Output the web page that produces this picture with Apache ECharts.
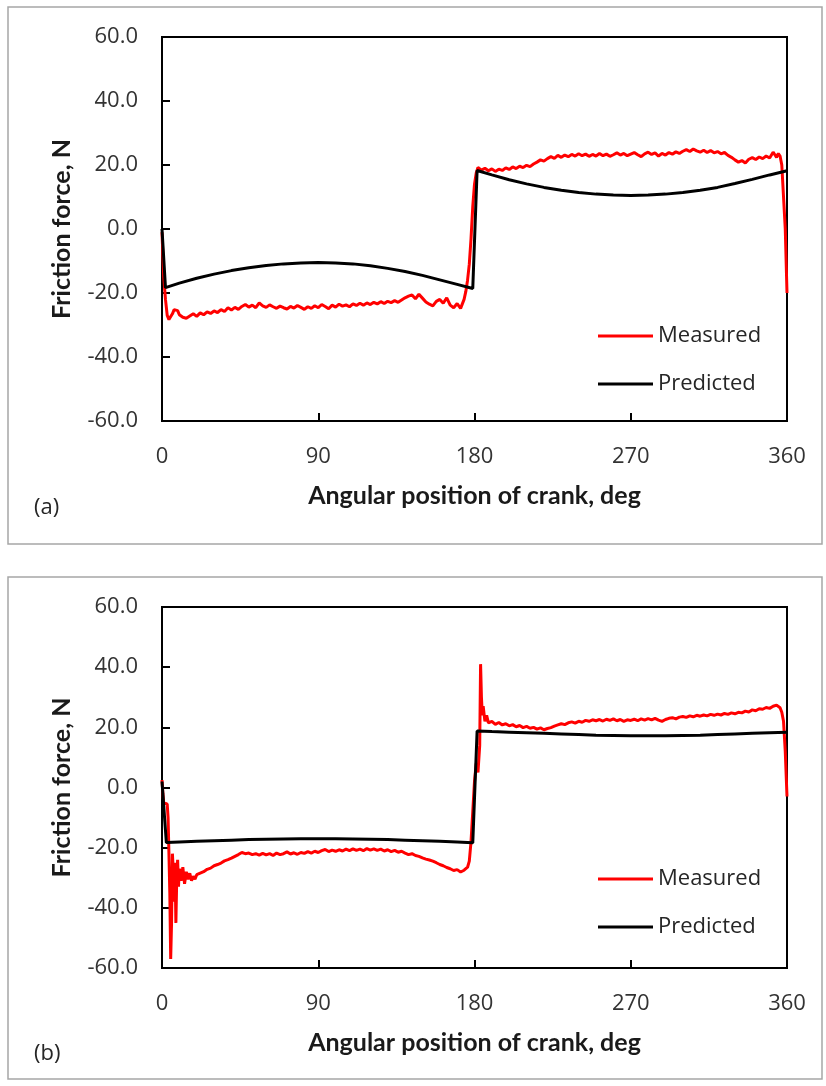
<!DOCTYPE html>
<html>
<head>
<meta charset="utf-8">
<script src="https://cdn.jsdelivr.net/npm/echarts@6/dist/echarts.min.js"></script>
<style>
  html, body { margin: 0; padding: 0; background: #fff; }
  #chart { width: 826px; height: 1086px; }
</style>
</head>
<body>
<div id="chart"></div>
<script>
// panel (a) measured
const measAngleA = [0,0.5,1,2,3,4,5,6,7,8,9,10,12,14,16,18,20,22,24,26,28,30,32,34,36,38,40,42,44,46,48,50,52,54,56,58,60,62,64,66,68,70,72,74,76,78,80,82,84,86,88,90,92,94,96,98,100,102,104,106,108,110,112,114,116,118,120,122,124,126,128,130,132,134,136,138,140,142,144,146,148,150,152,154,156,158,160,162,164,166,168,170,172,174,175,176,177,178,179,180,181,182,184,186,188,190,192,194,196,198,200,202,204,206,208,210,212,214,216,218,220,222,224,226,228,230,232,234,236,238,240,242,244,246,248,250,252,254,256,258,260,262,264,266,268,270,272,274,276,278,280,282,284,286,288,290,292,294,296,298,300,302,304,306,308,310,312,314,316,318,320,322,324,326,328,330,332,334,336,338,340,342,344,346,348,350,352,353,354,355,356,357,358,359,360];
const measForceA = [-1,-8,-15,-22,-27,-28.3,-28,-26.5,-25.2,-24.8,-25.5,-26.8,-27.6,-27.9,-27.2,-26.5,-27.3,-26.2,-26.8,-25.9,-26.4,-25.6,-26.1,-25.2,-25.8,-24.6,-25.3,-24.5,-25.1,-24.2,-23.6,-24.4,-23.8,-24.6,-23.1,-24.0,-24.5,-23.7,-24.3,-24.8,-24.1,-24.6,-25.0,-24.2,-24.7,-23.9,-24.5,-25.1,-24.3,-24.8,-24.0,-24.6,-23.6,-24.2,-24.9,-23.8,-24.4,-23.5,-24.1,-23.7,-24.3,-23.4,-23.9,-23.2,-23.8,-23.1,-23.6,-22.9,-23.4,-22.7,-23.3,-22.6,-23.0,-22.4,-22.9,-22.2,-21.5,-21.0,-20.6,-21.8,-20.4,-21.6,-22.8,-23.5,-24.0,-22.6,-22.0,-23.2,-21.5,-23.8,-24.6,-23.3,-24.8,-22.0,-19.5,-16,-11,-3,7,14,17.5,19.2,18.4,19.0,18.2,18.8,18.0,18.7,18.3,19.1,18.6,19.4,18.9,19.6,19.2,19.9,19.5,20.3,20.9,21.6,21.2,22.0,22.6,22.1,23.0,22.4,23.1,22.6,23.3,22.8,23.5,22.9,23.4,22.7,23.3,22.8,23.6,22.9,23.4,22.7,23.2,23.8,23.1,23.6,22.9,23.4,23.9,23.2,22.6,23.5,24.0,23.3,23.8,22.8,23.6,23.1,23.9,23.4,24.1,23.6,24.3,24.8,24.2,25.0,24.4,24.0,24.6,23.9,24.5,23.8,24.2,23.5,23.9,23.0,22.4,21.6,20.9,21.4,20.6,21.8,22.3,21.7,22.5,22.0,22.8,22.2,24.0,23.2,22.4,23.6,22.8,20,10,0,-20];

// panel (a) predicted
const predAngleA = [0,2,10,20,30,40,50,60,70,80,90,100,110,120,130,140,150,160,170,179,181.5,190,200,210,220,230,240,250,260,270,280,290,300,310,320,330,340,350,360];
const predForceA = [0,-18.3,-16.9,-15.4,-14.1,-13.0,-12.1,-11.4,-10.9,-10.6,-10.5,-10.6,-10.9,-11.5,-12.3,-13.3,-14.5,-15.9,-17.3,-18.6,18.3,16.9,15.4,14.1,13.0,12.1,11.4,10.9,10.6,10.5,10.6,10.9,11.4,12.1,13.0,14.2,15.5,16.9,18.2];

// panel (b) measured
const measAngleB = [0,0.5,1,2,3,3.5,4,4.5,5,5.5,6,6.5,7,7.5,8,8.5,9,9.5,10,11,12,13,14,15,16,17,18,19,20,22,24,26,28,30,32,34,36,38,40,42,44,46,48,50,52,54,56,58,60,62,64,66,68,70,72,74,76,78,80,82,84,86,88,90,92,94,96,98,100,102,104,106,108,110,112,114,116,118,120,122,124,126,128,130,132,134,136,138,140,142,144,146,148,150,152,154,156,158,160,162,164,166,168,170,172,174,176,177,178,179,180,181,182,183,183.5,184,184.5,185,186,187,188,190,192,194,196,198,200,202,204,206,208,210,212,214,216,218,220,222,224,226,228,230,232,234,236,238,240,242,244,246,248,250,252,254,256,258,260,262,264,266,268,270,272,274,276,278,280,282,284,286,288,290,292,294,296,298,300,302,304,306,308,310,312,314,316,318,320,322,324,326,328,330,332,334,336,338,340,342,344,346,348,350,352,354,355,356,357,358,359,360];
const measForceB = [2.5,-2,-5,-4.5,-5.5,-10,-22,-35,-57,-45,-22,-28,-38,-25,-45,-30,-24,-33,-27,-31,-26.5,-32,-28,-30.5,-28.5,-31,-29.5,-30.5,-29,-28.5,-28.0,-27.2,-26.8,-26.0,-25.6,-25.1,-24.4,-24.0,-23.5,-22.9,-22.3,-21.6,-22.0,-21.8,-22.3,-22.0,-22.5,-21.9,-22.4,-22.0,-22.6,-21.8,-22.3,-22.0,-21.4,-22.1,-21.7,-22.2,-21.6,-21.9,-21.3,-21.8,-21.2,-21.6,-21.0,-20.6,-21.3,-20.8,-21.2,-20.7,-21.1,-20.5,-21.0,-20.4,-20.9,-20.5,-21.0,-20.3,-20.8,-20.4,-20.9,-20.5,-21.1,-20.7,-21.3,-20.9,-21.5,-21.2,-21.8,-22.3,-22.0,-22.6,-22.9,-23.4,-23.8,-24.1,-24.5,-25.0,-25.6,-26.0,-26.6,-27.0,-27.6,-27.3,-28.1,-27.5,-26.5,-24.5,-18,-8,2,8,5,14,41,30,24,27,22,24,21.5,22,21,21.6,20.8,21.2,20.5,20.9,20.2,20.6,19.9,20.3,19.7,20.0,19.4,19.8,19.2,19.6,19.9,20.4,20.8,21.2,20.9,21.5,21.8,21.4,22.0,21.7,22.3,22.0,22.5,22.2,22.6,22.1,22.7,22.3,22.8,22.2,22.6,22.0,22.5,22.3,22.7,22.2,22.8,22.4,22.9,22.5,23.0,22.4,22.0,22.6,23.0,23.2,22.8,23.4,23.6,23.3,23.8,23.5,24.0,23.7,24.1,23.8,24.3,24.0,24.4,24.1,24.6,24.3,24.8,24.5,25.0,24.8,25.4,25.1,25.8,25.5,26.2,26.0,26.6,26.3,27.0,27.4,27.2,26.5,25.0,22.0,12,-3];

// panel (b) predicted
const predAngleB = [0,2.5,10,20,30,40,50,60,70,80,90,100,110,120,130,140,150,160,170,179,181.5,190,200,210,220,230,240,250,260,270,280,290,300,310,320,330,340,350,360];
const predForceB = [2,-18.3,-18.1,-17.9,-17.7,-17.5,-17.3,-17.2,-17.1,-17.0,-17.0,-17.0,-17.1,-17.2,-17.3,-17.5,-17.7,-17.9,-18.1,-18.4,18.8,18.6,18.4,18.2,18.0,17.8,17.6,17.4,17.3,17.2,17.2,17.2,17.3,17.4,17.6,17.8,18.0,18.2,18.4];

const xTicks = [0, 90, 180, 270, 360];
const yMin = -60, yMax = 60, yStep = 20;

const zip = (xs, ys) => xs.map((x, i) => [x, ys[i]]);

const font = '"Open Sans", Lato, sans-serif';
const titleFont = 'Lato, "Open Sans", sans-serif';
const tickColor = '#333333';

function xAxisFor(gridIndex) {
  return {
    type: 'value', gridIndex, min: xTicks[0], max: xTicks[xTicks.length - 1], interval: 90,
    name: 'Angular position of crank, deg', nameLocation: 'middle', nameGap: 62,
    nameTextStyle: { fontFamily: titleFont, fontSize: 25, fontWeight: 'bold', color: '#1a1a1a' },
    axisLine: { onZero: false, lineStyle: { color: '#000', width: 2 } },
    axisTick: { inside: true, length: 8, lineStyle: { color: '#000', width: 2 } },
    axisLabel: { margin: 25, fontFamily: font, fontSize: 22, color: tickColor },
    splitLine: { show: false }
  };
}

function yAxisFor(gridIndex) {
  return {
    type: 'value', gridIndex, min: yMin, max: yMax, interval: yStep,
    name: 'Friction force, N', nameLocation: 'middle', nameGap: 88,
    nameTextStyle: { fontFamily: titleFont, fontSize: 25, fontWeight: 'bold', color: '#1a1a1a' },
    axisLine: { onZero: false, lineStyle: { color: '#000', width: 2 } },
    axisTick: { inside: true, length: 8, lineStyle: { color: '#000', width: 2 } },
    axisLabel: { margin: 24, fontFamily: font, fontSize: 22, color: tickColor, formatter: v => v.toFixed(1) },
    splitLine: { show: false }
  };
}

function lineSeries(name, idx, data, color) {
  return {
    name, type: 'line', xAxisIndex: idx, yAxisIndex: idx, data,
    showSymbol: false, symbol: 'none', animation: false,
    lineStyle: { color, width: 3 }, itemStyle: { color }
  };
}

function legendFor(top) {
  return {
    data: ['Measured', 'Predicted'], orient: 'vertical', left: 593, top,
    icon: 'rect', itemWidth: 55, itemHeight: 3, itemGap: 24,
    textStyle: { fontFamily: font, fontSize: 22, color: '#262626', lineHeight: 24 },
    selectedMode: false
  };
}

const chart = echarts.init(document.getElementById('chart'), null, { renderer: 'canvas' });

chart.setOption({
  animation: false,
  backgroundColor: '#fff',
  grid: [
    { left: 162, top: 37, width: 625, height: 384, show: true, borderColor: '#000', borderWidth: 2 },
    { left: 162, top: 607, width: 625, height: 361, show: true, borderColor: '#000', borderWidth: 2 }
  ],
  xAxis: [xAxisFor(0), xAxisFor(1)],
  yAxis: [yAxisFor(0), yAxisFor(1)],
  legend: [legendFor(319), legendFor(862)],
  series: [
    lineSeries('Measured', 0, zip(measAngleA, measForceA), '#ff0000'),
    lineSeries('Predicted', 0, zip(predAngleA, predForceA), '#000000'),
    lineSeries('Measured', 1, zip(measAngleB, measForceB), '#ff0000'),
    lineSeries('Predicted', 1, zip(predAngleB, predForceB), '#000000')
  ],
  graphic: [
    { type: 'rect', shape: { x: 8, y: 7, width: 814, height: 537 }, style: { fill: 'none', stroke: '#a6a6a6', lineWidth: 1.5 }, z: -1 },
    { type: 'rect', shape: { x: 8, y: 577, width: 814, height: 502 }, style: { fill: 'none', stroke: '#a6a6a6', lineWidth: 1.5 }, z: -1 },
    { type: 'text', left: 34, top: 497, style: { text: '(a)', font: '22px ' + font, fill: '#262626' } },
    { type: 'text', left: 34, top: 1043, style: { text: '(b)', font: '22px ' + font, fill: '#262626' } }
  ]
});
</script>
</body>
</html>
